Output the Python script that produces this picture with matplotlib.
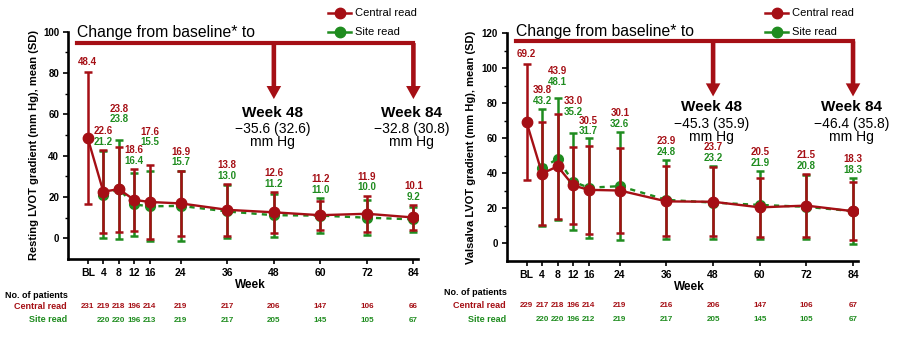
"""LVOT gradient over time, central vs site read, two panels."""
import matplotlib
matplotlib.use("Agg")
import matplotlib.pyplot as plt
import matplotlib.transforms as mtransforms
from matplotlib.lines import Line2D
from matplotlib.ticker import FixedLocator

plt.rcParams["font.family"] = ["Liberation Sans", "DejaVu Sans"]

RED = "#a50f15"
GREEN = "#1f8c1f"

weeks = [0, 4, 8, 12, 16, 24, 36, 48, 60, 72, 84]
week_labels = ["BL", "4", "8", "12", "16", "24", "36", "48", "60", "72", "84"]
site_weeks = weeks[1:]

# Resting LVOT gradient (mm Hg)
rest_central_mean = [48.4, 22.6, 23.8, 18.6, 17.6, 16.9, 13.8, 12.6, 11.2, 11.9, 10.1]
rest_central_sd = [32.0, 20.0, 20.5, 15.0, 18.0, 15.6, 12.5, 9.8, 7.1, 8.8, 5.9]
rest_site_mean = [21.2, 23.8, 16.4, 15.5, 15.7, 13.0, 11.2, 11.0, 10.0, 9.2]
rest_site_sd = [21.2, 24.0, 15.2, 17.0, 17.0, 13.0, 10.4, 8.5, 8.4, 6.2]
rest_central_n = [231, 219, 218, 196, 214, 219, 217, 206, 147, 106, 66]
rest_site_n = [220, 220, 196, 213, 219, 217, 205, 145, 105, 67]
rest_change = ["\u221235.6 (32.6)", "\u221232.8 (30.8)"]

# Valsalva LVOT gradient (mm Hg)
val_central_mean = [69.2, 39.8, 43.9, 33.0, 30.5, 30.1, 23.9, 23.7, 20.5, 21.5, 18.3]
val_central_sd = [33.1, 29.6, 29.8, 22.2, 25.0, 24.1, 20.0, 19.6, 16.8, 18.1, 16.7]
val_site_mean = [43.2, 48.1, 35.2, 31.7, 32.6, 24.8, 23.2, 21.9, 20.8, 18.3]
val_site_sd = [33.5, 34.6, 27.8, 28.6, 30.7, 22.6, 20.8, 19.3, 18.1, 18.7]
val_central_n = [229, 217, 218, 196, 214, 219, 216, 206, 147, 106, 67]
val_site_n = [220, 220, 196, 212, 219, 217, 205, 145, 105, 67]
val_change = ["\u221245.3 (35.9)", "\u221246.4 (35.8)"]

change_weeks = [48, 84]

fig = plt.figure(figsize=(9, 3.38), dpi=100)


def px_x(px):
    return px / 900


def px_y(px):
    return 1 - px / 338


def draw_panel(rect, ylim, ymax_tick, ylabel, cm, csd, sm, ssd, cn, sn, change,
               lay):
    ax = fig.add_axes(rect)
    ax.set_xlim(-5.1, 85.2)
    ax.set_ylim(*ylim)

    ax.errorbar(site_weeks, sm, yerr=ssd, color=GREEN, ls=(0, (2.2, 2.2)),
                lw=1.7, marker="o", ms=7, capsize=3, capthick=1.8,
                elinewidth=1.8, zorder=2)
    ax.errorbar(weeks, cm, yerr=csd, color=RED, ls="-", lw=1.7, marker="o",
                ms=7.5, capsize=3, capthick=1.8, elinewidth=1.8, zorder=3)

    # value labels over the bars
    for i, w in enumerate(weeks):
        top = cm[i] + csd[i]
        if i > 0:
            top = max(top, sm[i - 1] + ssd[i - 1])
        lift = 6.0 + lay["nudge"].get(w, 0)
        if i == 0:
            ax.annotate(f"{cm[i]:.1f}", (w, top), xytext=(0, lift + 1),
                        textcoords="offset points", ha="center", va="center",
                        fontsize=7, fontweight="bold", color=RED)
            continue
        ax.annotate(f"{sm[i - 1]:.1f}", (w, top), xytext=(0, lift),
                    textcoords="offset points", ha="center", va="center",
                    fontsize=7, fontweight="bold", color=GREEN)
        ax.annotate(f"{cm[i]:.1f}", (w, top), xytext=(0, lift + 7.7),
                    textcoords="offset points", ha="center", va="center",
                    fontsize=7, fontweight="bold", color=RED)

    # axes styling
    for side in ("top", "right"):
        ax.spines[side].set_visible(False)
    for side in ("left", "bottom"):
        ax.spines[side].set_linewidth(1.9)
    ax.set_xticks(weeks)
    ax.set_xticklabels(week_labels, fontsize=7.5, fontweight="bold")
    major = list(range(0, ymax_tick + 1, 20))
    ax.set_yticks(major)
    ax.set_yticklabels([str(v) for v in major], fontsize=7, fontweight="bold")
    ax.yaxis.set_minor_locator(FixedLocator([v + 10 for v in major[:-1]]))
    ax.tick_params(axis="both", which="major", length=3.6, width=1.2, pad=2.8)
    ax.tick_params(axis="y", which="minor", length=2.2, width=1.0)
    ax.set_ylabel(ylabel, fontsize=8, fontweight="bold")
    ax.yaxis.set_label_coords(lay["ylabel_x"], 0.5)

    # change-from-baseline bracket
    ax.text(-2.8, lay["title_y"], "Change from baseline* to", fontsize=11.3,
            va="baseline", ha="left")
    ax.plot([-2.7, 84], [lay["bar_y"], lay["bar_y"]], color=RED, lw=3.0,
            solid_capstyle="projecting", zorder=4)
    for w, txt in zip(change_weeks, change):
        ax.annotate("", xy=(w, lay["tip_y"]), xytext=(w, lay["bar_y"]),
                    arrowprops=dict(arrowstyle="simple,head_length=9.4,"
                                    "head_width=10.5,tail_width=3.3",
                                    mutation_scale=1, color=RED, lw=0,
                                    shrinkA=0, shrinkB=0), zorder=4)
        ax.text(w - 0.4, lay["text_y"][0], f"Week {w}", fontsize=11,
                fontweight="bold", ha="center", va="center")
        ax.text(w - 0.4, lay["text_y"][1], txt, fontsize=10, ha="center",
                va="center")
        ax.text(w - 0.4, lay["text_y"][2], "mm Hg", fontsize=10, ha="center",
                va="center")

    # x label and patient counts under the axis
    blend = mtransforms.blended_transform_factory(ax.transData, fig.transFigure)
    ax.text(42, px_y(lay["week_px"]), "Week", transform=blend, fontsize=8.5,
            fontweight="bold", ha="center", va="center")
    fig.text(px_x(lay["nop_x"]), px_y(lay["rows_px"][0]), "No. of patients",
             fontsize=6.5, fontweight="bold", ha="left", va="center")
    fig.text(px_x(lay["row_lab_x"]), px_y(lay["rows_px"][1]), "Central read",
             fontsize=6.5, fontweight="bold", color=RED, ha="right",
             va="center")
    fig.text(px_x(lay["row_lab_x"]), px_y(lay["rows_px"][2]), "Site read",
             fontsize=6.5, fontweight="bold", color=GREEN, ha="right",
             va="center")
    for w, n in zip(weeks, cn):
        ax.text(w, px_y(lay["rows_px"][1]), str(n), transform=blend,
                fontsize=5.8, fontweight="bold", color=RED, ha="center",
                va="center")
    for w, n in zip(site_weeks, sn):
        ax.text(w, px_y(lay["rows_px"][2]), str(n), transform=blend,
                fontsize=5.8, fontweight="bold", color=GREEN, ha="center",
                va="center")

    # legend (drawn by hand in figure space)
    x0, xm, x1, xt = lay["legend_px"]
    for ypx, col, name in ((13.3, RED, "Central read"), (31.7, GREEN, "Site read")):
        fig.add_artist(Line2D([px_x(x0), px_x(xm), px_x(x1)],
                              [px_y(ypx)] * 3, transform=fig.transFigure,
                              color=col, lw=1.8, marker="o", ms=7.5,
                              markevery=[1]))
        fig.text(px_x(xt), px_y(ypx), name, fontsize=8, ha="left",
                 va="center")
    return ax


left_layout = {
    "nudge": {8: 12 * 0.72, 16: 14 * 0.72},
    "ylabel_x": -0.083,
    "title_y": 97.3, "bar_y": 94.5, "tip_y": 67.4,
    "text_y": [60.9, 53.0, 46.4],
    "week_px": 285, "nop_x": 5, "row_lab_x": 66.7,
    "rows_px": [295, 306.7, 320],
    "legend_px": [328, 339.5, 351, 355],
}
right_layout = {
    "nudge": {8: 6, 12: 9, 16: -1.5},
    "ylabel_x": -0.0875,
    "title_y": 118.5, "bar_y": 115.2, "tip_y": 83.8,
    "text_y": [78.0, 68.2, 60.9],
    "week_px": 287.3, "nop_x": 444, "row_lab_x": 505.7,
    "rows_px": [292.7, 305.7, 319.3],
    "legend_px": [765, 776.7, 788, 791.7],
}

draw_panel([0.0756, 0.2337, 0.3889, 0.6725], (-10, 100), 100,
           "Resting LVOT gradient (mm Hg), mean (SD)",
           rest_central_mean, rest_central_sd, rest_site_mean, rest_site_sd,
           rest_central_n, rest_site_n, rest_change, left_layout)
draw_panel([0.5630, 0.2284, 0.3900, 0.6740], (-10, 120), 120,
           "Valsalva LVOT gradient (mm Hg), mean (SD)",
           val_central_mean, val_central_sd, val_site_mean, val_site_sd,
           val_central_n, val_site_n, val_change, right_layout)

fig.savefig("out.png", dpi=100)
